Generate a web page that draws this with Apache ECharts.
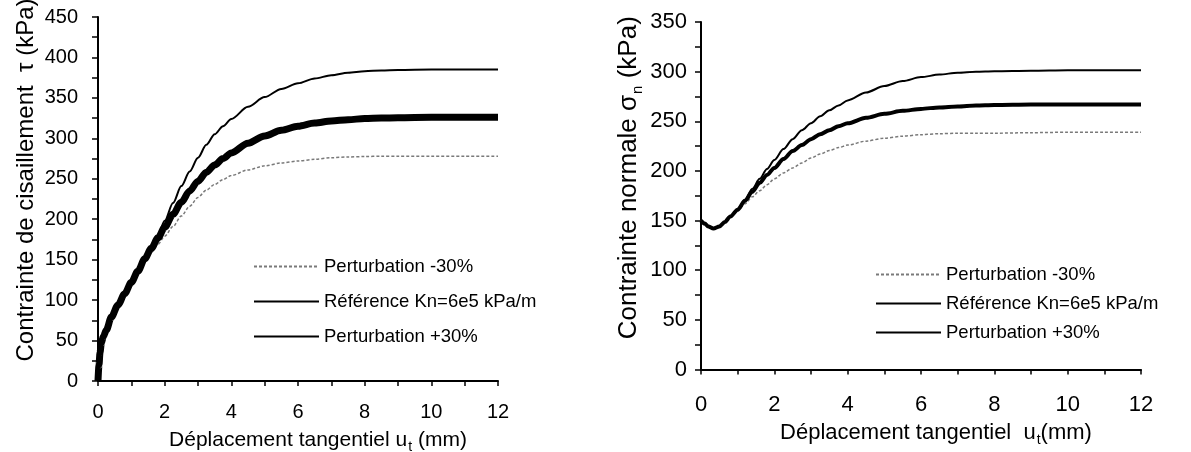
<!DOCTYPE html>
<html>
<head>
<meta charset="utf-8">
<script src="https://cdn.jsdelivr.net/npm/echarts@6/dist/echarts.min.js"></script>
<style>
  html, body { margin: 0; padding: 0; background: #fff; }
  #chart { width: 1191px; height: 452px; }
</style>
</head>
<body>
<div id="chart"></div>
<script>
// Shear stress tau (kPa) versus tangential displacement u_t (mm)
const uTau = [0, 0.03, 0.06, 0.1, 0.16, 0.25, 0.4, 0.6, 0.8, 1.0,
              1.2, 1.4, 1.6, 1.8, 2.0, 2.25, 2.5, 2.75, 3.0, 3.25,
              3.5, 3.75, 4.0, 4.5, 5.0, 5.5, 6.0, 6.5, 7.0, 7.5,
              8.0, 8.5, 9, 10, 11, 12];
const tauMinus30 = [0, 20, 35, 47, 55, 63, 79, 94, 108, 121,
                    134, 148, 159, 169, 179, 191, 204, 216, 227, 236,
                    243, 249, 254, 261, 266, 269.5, 272, 274, 276, 277,
                    277.5, 278, 278, 278, 278, 278];
const tauRef = [0, 20, 35, 47, 55, 63, 79, 94, 108, 122,
                136, 151, 164, 177, 190, 206, 221, 235, 247, 258,
                267, 275, 282, 294, 303, 310, 315, 319, 321.5, 323,
                324.5, 325, 325.5, 326, 326, 326];
const tauPlus30 = [0, 20, 35, 47, 55, 63, 79, 94, 108, 122,
                   136, 151, 165, 180, 198, 220, 241, 259, 276, 292,
                   305, 315, 324, 339, 351, 361, 368, 374, 378, 381,
                   383, 384, 384.5, 385, 385, 385];

// Normal stress sigma_n (kPa) versus tangential displacement u_t (mm)
const uSigma = [0, 0.1, 0.2, 0.34, 0.5, 0.65, 0.8, 1.0, 1.2, 1.4,
                1.6, 1.8, 2.0, 2.25, 2.5, 2.75, 3.0, 3.25, 3.5, 3.75,
                4.0, 4.5, 5.0, 5.5, 6.0, 6.5, 7.0, 7.5, 8.0, 9,
                10, 11, 12];
const sigmaMinus30 = [150, 147, 144, 142, 144, 148.6, 154, 160, 167, 174,
                      180, 186, 192, 198, 203, 208, 213, 217, 220.5, 223.5,
                      226, 230, 233, 235, 236.5, 237.5, 238, 238, 238, 238.5,
                      239, 239, 239];
const sigmaRef = [150, 147, 144, 142, 144, 148.6, 154, 161, 170, 179,
                  188, 196, 203, 212, 220, 226, 232, 237, 241, 245,
                  248, 253.5, 257.5, 260.5, 262.5, 264, 265, 266, 266.5, 267,
                  267, 267, 267];
const sigmaPlus30 = [150, 147, 144, 142, 144, 148.6, 154, 161, 171, 182,
                     192, 202, 211, 222, 232, 241, 248, 255, 261, 266,
                     271, 279, 285.5, 290.5, 294.5, 297, 299, 300, 300.5, 301,
                     301.5, 301.5, 301.5];

const seriesNames = ['Perturbation -30%', 'Référence Kn=6e5 kPa/m', 'Perturbation +30%'];

const FONT = '"Liberation Sans", Arial, sans-serif';

const pairs = (xs, ys) => xs.map((x, i) => [x, ys[i]]);

function xAxisDef(gridIndex, labelSize, labelMargin, title, titleSize, nameGap, shift) {
  return {
    gridIndex: gridIndex,
    type: 'value',
    min: 0, max: 12, interval: 2,
    axisLine: { show: true, onZero: false, lineStyle: { color: '#000', width: 2 } },
    axisTick: { show: true, length: 5, lineStyle: { color: '#000', width: 1.5 } },
    minorTick: { show: true, splitNumber: 2, length: 5, lineStyle: { color: '#000', width: 1.5 } },
    splitLine: { show: false },
    axisLabel: { fontSize: labelSize, color: '#000', fontFamily: FONT, margin: labelMargin },
    name: title,
    nameLocation: 'middle',
    nameGap: nameGap,
    nameTextStyle: {
      color: '#000', fontFamily: FONT, padding: [0, 0, 0, shift],
      rich: {
        a: { fontSize: titleSize, lineHeight: 26, color: '#000', fontFamily: FONT },
        s: { fontSize: 14, lineHeight: 14, color: '#000', fontFamily: FONT, padding: [13, 0, 0, 1], verticalAlign: 'top' }
      }
    }
  };
}

function yAxisDef(gridIndex, max, labelSize, labelMargin, title, titleSize, nameGap, shift) {
  return {
    gridIndex: gridIndex,
    type: 'value',
    min: 0, max: max, interval: 50,
    axisLine: { show: true, onZero: false, lineStyle: { color: '#000', width: 2 } },
    axisTick: { show: true, length: 6, lineStyle: { color: '#000', width: 1.5 } },
    minorTick: { show: true, splitNumber: 2, length: 6, lineStyle: { color: '#000', width: 1.5 } },
    splitLine: { show: false },
    axisLabel: { fontSize: labelSize, color: '#000', fontFamily: FONT, margin: labelMargin },
    name: title,
    nameLocation: 'middle',
    nameRotate: 90,
    nameGap: nameGap,
    nameTextStyle: {
      color: '#000', fontFamily: FONT, padding: [0, 0, 0, shift],
      rich: {
        a: { fontSize: titleSize, lineHeight: 28, color: '#000', fontFamily: FONT },
        s: { fontSize: 15, lineHeight: 15, color: '#000', fontFamily: FONT, padding: [15, 0, 0, 1], verticalAlign: 'top' }
      }
    }
  };
}

function curve(name, axis, xs, ys, style) {
  return {
    name: name,
    type: 'line',
    xAxisIndex: axis, yAxisIndex: axis,
    data: pairs(xs, ys),
    symbol: 'none',
    smooth: 0.3,
    smoothMonotone: 'x',
    itemStyle: { color: style.color },
    lineStyle: style,
    z: 3
  };
}

const dotted = { color: '#7a7a7a', width: 1.5, type: [3, 2] };

function legendDef(left, top, gap) {
  return {
    left: left, top: top,
    padding: 0,
    orient: 'vertical',
    itemWidth: 65, itemHeight: 14, itemGap: gap,
    selectedMode: false,
    itemStyle: { opacity: 0 },
    textStyle: { fontSize: 18.5, color: '#000', fontFamily: FONT },
    data: [
      { name: seriesNames[0] },
      { name: seriesNames[1], lineStyle: { width: 2, color: '#000' } },
      { name: seriesNames[2], lineStyle: { width: 2, color: '#000' } }
    ]
  };
}

const option = {
  backgroundColor: '#fff',
  animation: false,
  grid: [
    { left: 98, top: 17, width: 400, height: 364, outerBoundsMode: 'none' },
    { left: 701, top: 22, width: 440, height: 347.5, outerBoundsMode: 'none' }
  ],
  xAxis: [
    xAxisDef(0, 20, 21, '{a|Déplacement tangentiel u}{s|t}{a| (mm)}', 21, 36, 40),
    xAxisDef(1, 22, 24, '{a|Déplacement tangentiel  u}{s|t}{a|(mm)}', 22, 48, 30)
  ],
  yAxis: [
    yAxisDef(0, 450, 20, 20, '{a|Contrainte de cisaillement  τ (kPa)}', 24, 58, 38),
    yAxisDef(1, 350, 22, 14, '{a|Contrainte normale σ}{s|n}{a| (kPa)}', 26, 58, 36)
  ],
  legend: [legendDef(253, 257, 16), legendDef(875, 265, 10)],
  series: [
    curve(seriesNames[0], 0, uTau, tauMinus30, dotted),
    curve(seriesNames[1], 0, uTau, tauRef, { color: '#000', width: 7 }),
    curve(seriesNames[2], 0, uTau, tauPlus30, { color: '#000', width: 2 }),
    curve(seriesNames[0], 1, uSigma, sigmaMinus30, dotted),
    curve(seriesNames[1], 1, uSigma, sigmaRef, { color: '#000', width: 4 }),
    curve(seriesNames[2], 1, uSigma, sigmaPlus30, { color: '#000', width: 2 })
  ]
};

const chart = echarts.init(document.getElementById('chart'), null, { renderer: 'canvas' });
chart.setOption(option);
</script>
</body>
</html>
